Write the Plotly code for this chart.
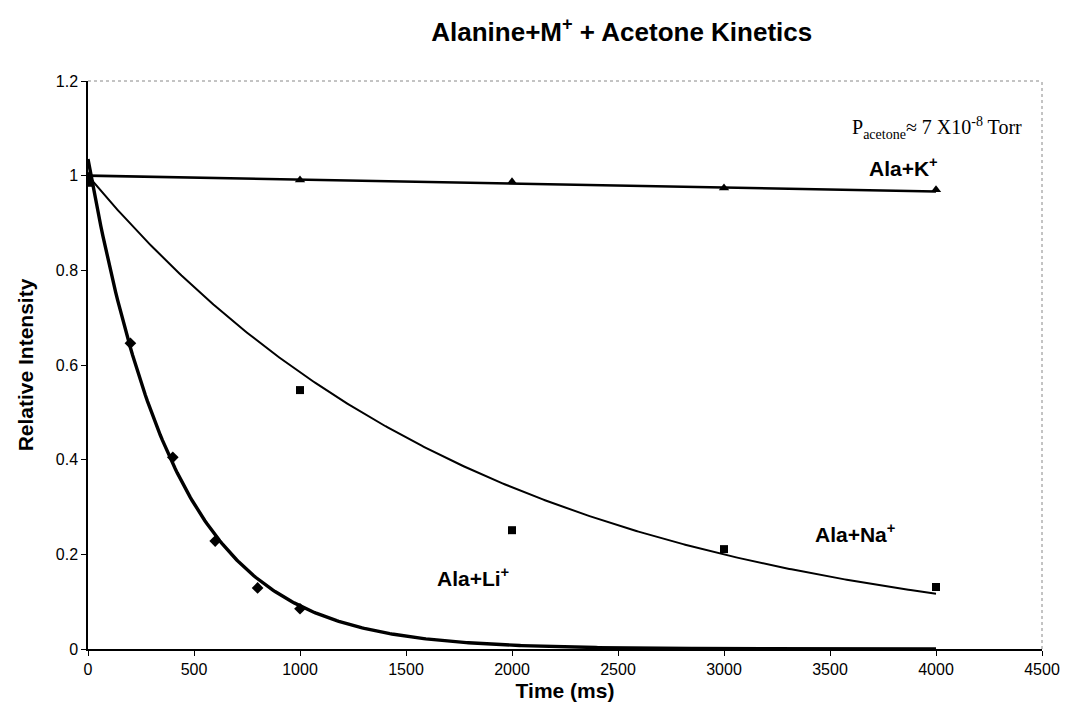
import numpy as np
import plotly.graph_objects as go

# Measured relative intensities (time in ms)
li_time = [0, 200, 400, 600, 800, 1000]
li_intensity = [0.99, 0.646, 0.405, 0.228, 0.129, 0.085]

na_time = [0, 1000, 2000, 3000, 4000]
na_intensity = [0.985, 0.547, 0.251, 0.211, 0.131]

k_time = [0, 1000, 2000, 3000, 4000]
k_intensity = [1.0, 0.991, 0.987, 0.974, 0.970]

# Pseudo-first-order decay fits: I(t) = A * exp(-k t)
li_fit = {"A": 1.035, "k": 0.00243}
na_fit = {"A": 1.0, "k": 0.000537}
k_fit = {"A": 1.0, "k": 0.0000085}

x_ticks = list(range(0, 4501, 500))
y_ticks = [0, 0.2, 0.4, 0.6, 0.8, 1.0, 1.2]

t_fit = np.linspace(0, 4000, 400)


def decay(p):
    return p["A"] * np.exp(-p["k"] * t_fit)


fig = go.Figure()

# fitted curves
fig.add_trace(go.Scatter(x=t_fit, y=decay(li_fit), mode="lines",
                         line=dict(color="black", width=3.4), hoverinfo="skip"))
fig.add_trace(go.Scatter(x=t_fit, y=decay(na_fit), mode="lines",
                         line=dict(color="black", width=2), hoverinfo="skip"))
fig.add_trace(go.Scatter(x=t_fit, y=decay(k_fit), mode="lines",
                         line=dict(color="black", width=2.6), hoverinfo="skip"))

# data points
fig.add_trace(go.Scatter(x=li_time, y=li_intensity, mode="markers", name="Ala+Li+",
                         marker=dict(symbol="diamond", size=9, color="black")))
fig.add_trace(go.Scatter(x=na_time, y=na_intensity, mode="markers", name="Ala+Na+",
                         marker=dict(symbol="square", size=8, color="black")))
fig.add_trace(go.Scatter(x=k_time, y=k_intensity, mode="markers", name="Ala+K+",
                         marker=dict(symbol="triangle-up", size=9, color="black")))

label_font = dict(family="Liberation Sans, Arial, sans-serif", size=21, color="black")

fig.add_annotation(x=3845, y=1.018, text="<b>Ala+K<sup>+</sup></b>", showarrow=False,
                   font=label_font, xanchor="center", yanchor="middle")
fig.add_annotation(x=3620, y=0.245, text="<b>Ala+Na<sup>+</sup></b>", showarrow=False,
                   font=label_font, xanchor="center", yanchor="middle")
fig.add_annotation(x=1815, y=0.152, text="<b>Ala+Li<sup>+</sup></b>", showarrow=False,
                   font=label_font, xanchor="center", yanchor="middle")
fig.add_annotation(x=4500, y=1.1, text="P<sub>acetone</sub>≈ 7 X10<sup>-8</sup> Torr",
                   showarrow=False, xanchor="right", yanchor="middle", xshift=-18,
                   font=dict(family="Liberation Serif, Times New Roman, serif", size=20, color="black"))

# dotted frame on the top and right of the plot area
fig.add_shape(type="line", xref="paper", yref="paper", x0=0, y0=1, x1=1, y1=1,
              line=dict(color="#888888", width=1, dash="dot"))
fig.add_shape(type="line", xref="paper", yref="paper", x0=1, y0=0, x1=1, y1=1,
              line=dict(color="#888888", width=1, dash="dot"))

fig.update_layout(
    width=1072, height=714,
    margin=dict(l=88, r=21, t=81, b=65),
    paper_bgcolor="white", plot_bgcolor="white",
    showlegend=False,
    title=dict(text="<b>Alanine+M<sup>+</sup> + Acetone Kinetics</b>",
               x=0.58, xanchor="center", y=0.955, yanchor="middle",
               font=dict(family="Liberation Sans, Arial, sans-serif", size=26, color="black")),
    font=dict(family="Liberation Sans, Arial, sans-serif", size=16, color="black"),
)

fig.update_xaxes(range=[0, 4500], tickvals=x_ticks, showgrid=False, zeroline=False,
                 showline=True, linecolor="black", linewidth=1.5,
                 ticks="outside", ticklen=5, tickcolor="black",
                 tickfont=dict(size=16),
                 title=dict(text="<b>Time (ms)</b>", font=dict(size=21), standoff=6))
fig.update_yaxes(range=[0, 1.2], tickvals=y_ticks, showgrid=False, zeroline=False,
                 showline=True, linecolor="black", linewidth=1.5,
                 ticks="outside", ticklen=5, tickcolor="black",
                 tickfont=dict(size=16),
                 title=dict(text="<b>Relative Intensity</b>", font=dict(size=21), standoff=16))

fig.write_html("out.html")
